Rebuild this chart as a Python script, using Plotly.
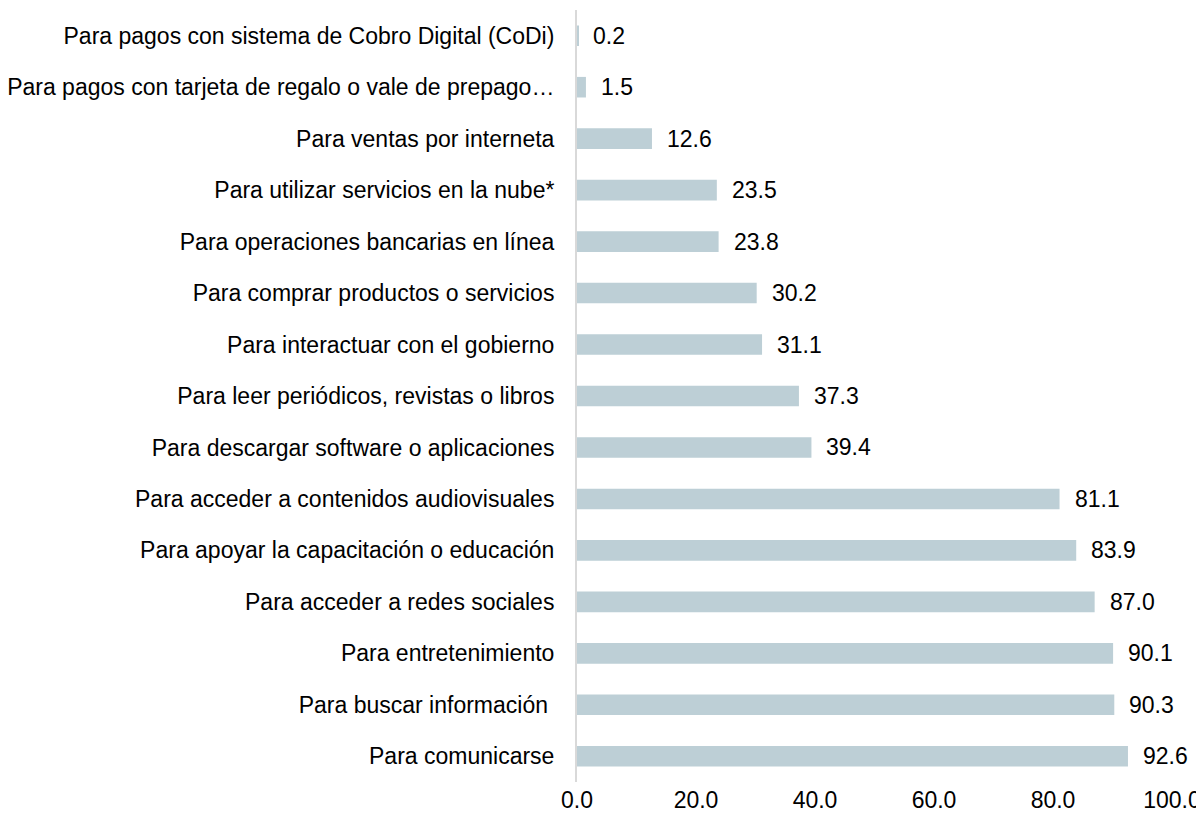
import plotly.graph_objects as go

# categories top to bottom, as shown
categories = [
    "Para pagos con sistema de Cobro Digital (CoDi)",
    "Para pagos con tarjeta de regalo o vale de prepago…",
    "Para ventas por interneta",
    "Para utilizar servicios en la nube*",
    "Para operaciones bancarias en línea",
    "Para comprar productos o servicios",
    "Para interactuar con el gobierno",
    "Para leer periódicos, revistas o libros",
    "Para descargar software o aplicaciones",
    "Para acceder a contenidos audiovisuales",
    "Para apoyar la capacitación o educación",
    "Para acceder a redes sociales",
    "Para entretenimiento",
    "Para buscar información\u00a0",
    "Para comunicarse",
]
values = [0.2, 1.5, 12.6, 23.5, 23.8, 30.2, 31.1, 37.3, 39.4, 81.1, 83.9, 87.0, 90.1, 90.3, 92.6]
x_ticks = [0, 20, 40, 60, 80, 100]

FONT = "Liberation Sans, Arial, sans-serif"
BAR = "#bdcfd6"

fig = go.Figure()
fig.add_trace(
    go.Bar(
        x=values,
        y=categories,
        orientation="h",
        marker=dict(color=BAR, line=dict(width=0)),
        width=0.4,
        hoverinfo="skip",
    )
)

# value labels to the right of each bar
for c, v in zip(categories, values):
    fig.add_annotation(
        x=v, y=c, text=f"{v:.1f}", showarrow=False,
        xanchor="left", yanchor="middle", xshift=13,
        font=dict(family=FONT, size=23, color="#000000"),
    )

# page body adds an 8px margin, so the figure is a bit smaller than the window
fig.update_layout(
    width=1196,
    height=812,
    margin=dict(l=569, r=32, t=2, b=38),
    plot_bgcolor="white",
    paper_bgcolor="white",
    showlegend=False,
    font=dict(family=FONT, size=23, color="#000000"),
)
fig.update_xaxes(
    range=[0, 100],
    tickvals=x_ticks,
    ticktext=[f"{t:.1f}" for t in x_ticks],
    showgrid=False,
    zeroline=False,
    showline=False,
    ticks="",
    automargin=False,
    ticklabelstandoff=2,
)
fig.update_yaxes(
    categoryorder="array",
    categoryarray=categories,
    autorange="reversed",
    showgrid=False,
    showline=True,
    linecolor="#d9d9d9",
    linewidth=2,
    ticks="",
    automargin=False,
    ticklabelstandoff=16,
)

fig.write_html("out.html")
